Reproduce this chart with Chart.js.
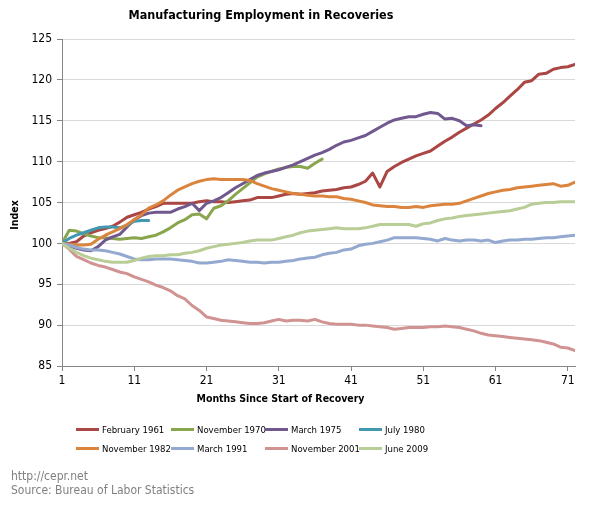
<!DOCTYPE html>
<html>
<head>
<meta charset="utf-8">
<script src="https://cdn.jsdelivr.net/npm/chart.js@4.4.1/dist/chart.umd.min.js"></script>
<style>
  body { margin: 0; background: #fff; }
  #wrap { position: relative; width: 593px; height: 505px; font-family: "DejaVu Sans Condensed", "DejaVu Sans", sans-serif; color: #000; }
  #chart { position: absolute; left: 0; top: 0; }
  .lbl { position: absolute; white-space: nowrap; }
  .title { left: 0; width: 522px; top: 7px; line-height: 16px; text-align: center; font-weight: bold; font-size: 12.5px; }
  .xtitle { left: 0; width: 561px; top: 391px; line-height: 14px; text-align: center; font-weight: bold; font-size: 10.5px; }
  .ytitle { left: -16px; width: 60px; top: 208px; line-height: 14px; text-align: center; font-weight: bold; font-size: 10.5px; transform: rotate(-90deg); }
  .item { position: absolute; height: 12px; line-height: 12px; font-size: 9.5px; white-space: nowrap; }
  .swatch { display: inline-block; width: 23px; height: 3px; vertical-align: middle; margin-right: 3px; position: relative; top: -1px; }
  .note { left: 11px; font-size: 12px; line-height: 14px; color: #808080; }
</style>
</head>
<body>
<div id="wrap">
  <canvas id="chart" width="593" height="505"></canvas>
  <div class="lbl title">Manufacturing Employment in Recoveries</div>
  <div class="lbl xtitle">Months Since Start of Recovery</div>
  <div class="lbl ytitle">Index</div>
  <div id="legend"></div>
  <div class="lbl note" style="top: 469px">http://cepr.net</div>
  <div class="lbl note" style="top: 483px">Source: Bureau of Labor Statistics</div>
</div>
<script>
// months since start of recovery
const months = Array.from({ length: 72 }, (_, i) => i + 1)
const xTicks = [1, 11, 21, 31, 41, 51, 61, 71]
const yTicks = [85, 90, 95, 100, 105, 110, 115, 120, 125]

const seriesNames = ["February 1961", "November 1970", "March 1975", "July 1980", "November 1982", "March 1991", "November 2001", "June 2009"]

const feb1961 = [
  100.0, 100.0, 100.2, 100.9, 101.3, 101.6, 101.8, 102.1, 102.6, 103.2,
  103.5, 103.8, 104.2, 104.5, 104.9, 104.9, 104.9, 104.9, 104.9, 105.1,
  105.2, 105.1, 105.1, 105.0, 105.1, 105.2, 105.3, 105.6, 105.6, 105.6,
  105.8, 106.0, 106.1, 106.0, 106.1, 106.2, 106.4, 106.5, 106.6, 106.8,
  106.9, 107.2, 107.6, 108.6, 106.9, 108.8, 109.4, 109.9, 110.3, 110.7,
  111.0, 111.3, 111.9, 112.5, 113.0, 113.6, 114.1, 114.6, 115.1, 115.7,
  116.5, 117.2, 118.0, 118.8, 119.7, 119.9, 120.7, 120.8, 121.3, 121.5,
  121.6, 121.9,
]
const nov1970 = [
  100.0, 101.6, 101.5, 101.2, 100.9, 100.7, 100.7, 100.6, 100.5, 100.6,
  100.7, 100.6, 100.8, 101.0, 101.4, 101.9, 102.5, 102.9, 103.5, 103.6,
  103.0, 104.3, 104.6, 105.2, 106.0, 106.7, 107.4, 108.1, 108.5, 108.8,
  109.1, 109.3, 109.4, 109.4, 109.2, 109.8, 110.3,
]
const mar1975 = [
  100.0, 99.7, 99.4, 99.2, 99.1, 99.6, 100.4, 100.8, 101.1, 102.0,
  102.9, 103.4, 103.7, 103.8, 103.8, 103.8, 104.2, 104.5, 104.9, 104.0,
  104.9, 105.2, 105.6, 106.2, 106.8, 107.3, 107.8, 108.3, 108.6, 108.8,
  109.0, 109.3, 109.6, 110.0, 110.4, 110.8, 111.1, 111.5, 112.0, 112.4,
  112.6, 112.9, 113.2, 113.7, 114.2, 114.7, 115.1, 115.3, 115.5, 115.5,
  115.8, 116.0, 115.9, 115.2, 115.3, 115.0, 114.4, 114.5, 114.4,
]
const jul1980 = [100.0, 100.6, 101.0, 101.3, 101.6, 101.9, 102.0, 102.0, 101.9, 102.2, 102.7, 102.8, 102.8]
const nov1982 = [
  100.0, 99.9, 99.8, 99.8, 99.9, 100.5, 101.0, 101.4, 101.8, 102.3,
  102.9, 103.5, 104.3, 104.7, 105.2, 105.9, 106.5, 106.9, 107.3, 107.6,
  107.8, 107.9, 107.8, 107.8, 107.8, 107.8, 107.7, 107.3, 107.0, 106.7,
  106.5, 106.3, 106.1, 106.0, 105.9, 105.8, 105.8, 105.7, 105.7, 105.5,
  105.4, 105.2, 105.0, 104.7, 104.6, 104.5, 104.5, 104.4, 104.4, 104.5,
  104.4, 104.6, 104.7, 104.8, 104.8, 104.9, 105.2, 105.5, 105.8, 106.1,
  106.3, 106.5, 106.6, 106.8, 106.9, 107.0, 107.1, 107.2, 107.3, 107.0,
  107.1, 107.5,
]
const mar1991 = [
  100.0, 99.8, 99.5, 99.3, 99.2, 99.2, 99.1, 98.9, 98.7, 98.4,
  98.1, 98.0, 98.0, 98.1, 98.1, 98.1, 98.0, 97.9, 97.8, 97.6,
  97.6, 97.7, 97.8, 98.0, 97.9, 97.8, 97.7, 97.7, 97.6, 97.7,
  97.7, 97.8, 97.9, 98.1, 98.2, 98.3, 98.6, 98.8, 98.9, 99.2,
  99.3, 99.7, 99.9, 100.0, 100.2, 100.4, 100.7, 100.7, 100.7, 100.7,
  100.6, 100.5, 100.3, 100.6, 100.4, 100.3, 100.4, 100.4, 100.3, 100.4,
  100.1, 100.3, 100.4, 100.4, 100.5, 100.5, 100.6, 100.7, 100.7, 100.8,
  100.9, 101.0,
]
const nov2001 = [
  100.0, 99.3, 98.4, 98.0, 97.6, 97.3, 97.1, 96.8, 96.5, 96.3,
  95.9, 95.6, 95.3, 94.9, 94.6, 94.2, 93.6, 93.2, 92.4, 91.8,
  91.0, 90.8, 90.6, 90.5, 90.4, 90.3, 90.2, 90.2, 90.3, 90.5,
  90.7, 90.5, 90.6, 90.6, 90.5, 90.7, 90.4, 90.2, 90.1, 90.1,
  90.1, 90.0, 90.0, 89.9, 89.8, 89.7, 89.5, 89.6, 89.7, 89.7,
  89.7, 89.8, 89.8, 89.9, 89.8, 89.7, 89.5, 89.3, 89.0, 88.8,
  88.7, 88.6, 88.5, 88.4, 88.3, 88.2, 88.1, 87.9, 87.7, 87.3,
  87.2, 86.9,
]
const jun2009 = [
  100.0, 99.4, 98.9, 98.5, 98.2, 98.0, 97.8, 97.7, 97.7, 97.7,
  97.9, 98.2, 98.4, 98.5, 98.5, 98.6, 98.6, 98.8, 98.9, 99.1,
  99.4, 99.6, 99.8, 99.9, 100.0, 100.1, 100.3, 100.4, 100.4, 100.4,
  100.6, 100.8, 101.0, 101.3, 101.5, 101.6, 101.7, 101.8, 101.9, 101.8,
  101.8, 101.8, 101.9, 102.1, 102.3, 102.3, 102.3, 102.3, 102.3, 102.1,
  102.4, 102.5, 102.8, 103.0, 103.1, 103.3, 103.4, 103.5, 103.6, 103.7,
  103.8, 103.9, 104.0, 104.2, 104.4, 104.8, 104.9, 105.0, 105.0, 105.1,
  105.1, 105.1,
]

const seriesData = [feb1961, nov1970, mar1975, jul1980, nov1982, mar1991, nov2001, jun2009]
const seriesColors = ["#AA4643", "#89A54E", "#71588F", "#4198AF", "#DB843D", "#93A9CF", "#D19392", "#B9CD96"]

const fontFamily = "'DejaVu Sans Condensed', 'DejaVu Sans', sans-serif"

const datasets = seriesNames.map((name, i) => ({
  label: name,
  data: seriesData[i],
  borderColor: seriesColors[i],
  backgroundColor: seriesColors[i],
  borderWidth: 3,
  borderJoinStyle: "round",
  borderCapStyle: "round",
  pointRadius: 0,
  tension: 0,
  fill: false,
  // excel draws later series on top
  order: seriesNames.length - i,
}))

new Chart(document.getElementById("chart"), {
  type: "line",
  data: { labels: months, datasets },
  options: {
    responsive: false,
    animation: false,
    events: [],
    layout: { padding: { left: 0, right: 18, top: 39, bottom: 119 } },
    plugins: {
      legend: { display: false },
      tooltip: { enabled: false },
      title: { display: false },
    },
    scales: {
      x: {
        type: "linear",
        min: 1,
        max: 72,
        afterBuildTicks: (axis) => {
          axis.ticks = xTicks.map((v) => ({ value: v }))
        },
        afterFit: (axis) => {
          axis.height = 20
        },
        ticks: {
          color: "#000",
          padding: 3,
          maxRotation: 0,
          font: { family: fontFamily, size: 12 },
        },
        grid: {
          drawOnChartArea: false,
          drawTicks: true,
          tickLength: 5,
          tickColor: "#868686",
        },
        border: { color: "#868686", width: 1 },
      },
      y: {
        min: 85,
        max: 125,
        afterBuildTicks: (axis) => {
          axis.ticks = yTicks.map((v) => ({ value: v }))
        },
        afterFit: (axis) => {
          axis.width = 62
        },
        ticks: {
          color: "#000",
          padding: 5,
          font: { family: fontFamily, size: 12 },
        },
        grid: {
          color: "#d9d9d9",
          lineWidth: 1,
          tickLength: 5,
          tickColor: "#868686",
        },
        border: { color: "#868686", width: 1 },
      },
    },
  },
})

// legend laid out as a 4 x 2 grid like the original
const legendCols = [76, 171, 265, 359]
const legendRows = [424, 443]
const legend = document.getElementById("legend")
legend.innerHTML = seriesNames
  .map((name, i) => {
    const left = legendCols[i % 4]
    const top = legendRows[Math.floor(i / 4)]
    return `<div class="item" style="left:${left}px;top:${top}px"><span class="swatch" style="background:${seriesColors[i]}"></span>${name}</div>`
  })
  .join("")
</script>
</body>
</html>
